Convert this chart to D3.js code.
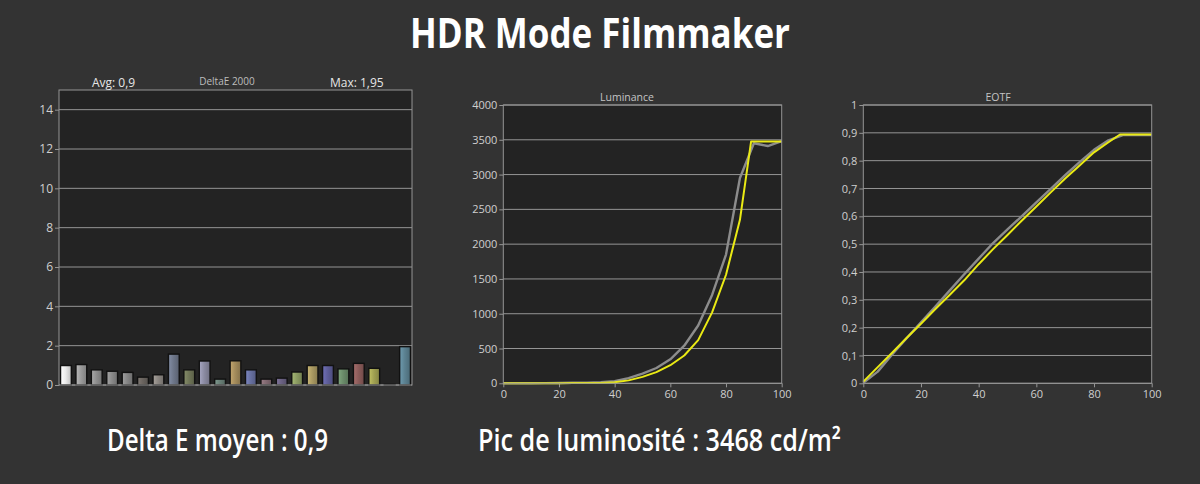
<!DOCTYPE html>
<html><head><meta charset="utf-8">
<script src="https://cdn.jsdelivr.net/npm/d3@7"></script>
<style>html,body{margin:0;padding:0;background:#333333;}svg{display:block;}</style>
</head><body>
<svg id="c" width="1200" height="484"></svg>
<script>
// ---------- DATA ----------
const deltaE = [0.99,1.04,0.77,0.70,0.64,0.40,0.52,1.57,0.77,1.22,0.30,1.23,0.77,0.30,0.35,0.66,0.99,0.99,0.82,1.10,0.85,0.03,1.95];
const barColors = ["#ececec","#9c9c9c","#8e8e8e","#8a8a8a","#868686","#6b6560","#8c8782","#6e778a","#707658","#8b8ba2","#6a8178","#a48c5c","#6871a2","#826a72","#6b6283","#8c9c62","#aa9a62","#5e5e9a","#6b8c6a","#8c5c5a","#a2a252","#8a8a8a","#5c8292"];
const deltaTicks = [0,2,4,6,8,10,12,14];

const lumGrayX = [0,5,10,15,20,25,30,35,40,45,50,55,60,65,70,75,80,85,90,95,100];
const lumGray  = [0,0,1,2,4,7,10,15,32,75,140,220,345,540,830,1270,1850,2950,3450,3410,3480];
const lumYellowX = [0,5,10,15,20,25,30,35,40,45,50,55,60,65,70,75,80,85,89,90,95,100];
const lumYellow  = [0,0,0.3,0.8,1.5,3,4,6,15,42,92,160,260,400,620,1020,1560,2350,3475,3475,3475,3475];
const lumTicks = [0,500,1000,1500,2000,2500,3000,3500,4000];

const eotfGrayX = [0,5,10,15,20,25,30,35,40,45,50,55,60,65,70,75,80,85,90,95,100];
const eotfGray  = [0.002,0.042,0.104,0.162,0.219,0.276,0.334,0.392,0.448,0.504,0.553,0.601,0.65,0.699,0.748,0.795,0.839,0.873,0.892,0.892,0.892];
const eotfYellowX = [0,5,10,15,20,25,30,35,40,45,50,55,60,65,70,75,80,85,89,90,95,100];
const eotfYellow  = [0.006,0.058,0.11,0.163,0.214,0.267,0.318,0.37,0.428,0.482,0.533,0.585,0.635,0.686,0.736,0.783,0.83,0.866,0.894,0.894,0.894,0.894];
const eotfTicks = [0,0.1,0.2,0.3,0.4,0.5,0.6,0.7,0.8,0.9,1];
const xTicks = [0,20,40,60,80,100];

// ---------- STYLE ----------
const BG="#333333", PLOT="#232323", GRID="#959595", TXT="#cfcfcf";
const FONT="'Open Sans','Noto Sans',sans-serif";
const svg = d3.select("#c");
svg.append("rect").attr("width",1200).attr("height",484).attr("fill",BG);
const defs = svg.append("defs");
const fmt = d => String(d).replace(".",",");

// Title
svg.append("text").attr("x",600).attr("y",48).attr("text-anchor","middle")
  .attr("font-family",FONT).attr("font-weight",700).attr("font-size",42)
  .attr("fill","#ffffff").attr("textLength",380).attr("lengthAdjust","spacingAndGlyphs")
  .text("HDR Mode Filmmaker");

// Bottom captions
svg.append("text").attr("x",107).attr("y",451).attr("font-family",FONT).attr("font-weight",600)
  .attr("font-size",30).attr("fill","#ffffff").attr("textLength",221).attr("lengthAdjust","spacingAndGlyphs")
  .text("Delta E moyen : 0,9");
svg.append("text").attr("x",478).attr("y",451).attr("font-family",FONT).attr("font-weight",600)
  .attr("font-size",30).attr("fill","#ffffff").attr("textLength",363).attr("lengthAdjust","spacingAndGlyphs")
  .text("Pic de luminosité : 3468 cd/m²");

function frame(x0,x1,y0,y1,yScale,yTicks,yFmt,fs){
  const g = svg.append("g");
  g.append("rect").attr("x",x0).attr("y",y0).attr("width",x1-x0).attr("height",y1-y0).attr("fill",PLOT);
  g.selectAll(".grid").data(yTicks).enter().append("line")
    .attr("x1",x0).attr("x2",x1).attr("y1",d=>yScale(d)).attr("y2",d=>yScale(d))
    .attr("stroke",GRID).attr("stroke-width",1);
  const ax = g.append("g").attr("transform",`translate(${x0},0)`)
    .call(d3.axisLeft(yScale).tickValues(yTicks).tickFormat(yFmt).tickSize(4).tickPadding(2));
  ax.select(".domain").remove();
  ax.selectAll("line").attr("stroke",GRID);
  ax.selectAll("text").attr("fill",TXT).attr("font-family",FONT).attr("font-size",fs);
  return g;
}
function border(x0,x1,y0,y1){
  svg.append("rect").attr("x",x0).attr("y",y0).attr("width",x1-x0).attr("height",y1-y0)
    .attr("fill","none").attr("stroke",GRID).attr("stroke-width",1);
}

// ---------- LEFT: DeltaE bars ----------
(function(){
  const x0=59,x1=412,y0=90,y1=385;
  const y = d3.scaleLinear().domain([0,15]).range([y1,y0]);
  const x = d3.scaleBand().domain(deltaE.map((d,i)=>i)).range([x0,x1]).paddingInner(0.3).paddingOuter(0.1);
  frame(x0,x1,y0,y1,y,deltaTicks,d=>d,12);
  barColors.forEach((c,i)=>{
    const gr = defs.append("linearGradient").attr("id","bg"+i).attr("x1","0").attr("x2","1").attr("y1","0").attr("y2","0");
    const col = d3.color(c);
    gr.append("stop").attr("offset","0%").attr("stop-color",col.brighter(0.5));
    gr.append("stop").attr("offset","45%").attr("stop-color",col);
    gr.append("stop").attr("offset","100%").attr("stop-color",col.darker(0.6));
  });
  svg.append("g").selectAll("rect").data(deltaE).enter().append("rect")
    .attr("x",(d,i)=>x(i)).attr("width",x.bandwidth())
    .attr("y",d=>y(d)).attr("height",d=>y1-y(d))
    .attr("fill",(d,i)=>`url(#bg${i})`).attr("stroke","#111").attr("stroke-width",1.4);
  border(x0,x1,y0,y1);
  svg.append("text").attr("x",92).attr("y",87).attr("font-family",FONT).attr("font-size",12).attr("fill","#e6e6e6").text("Avg: 0,9");
  svg.append("text").attr("x",227).attr("y",85).attr("text-anchor","middle").attr("font-family",FONT).attr("font-size",10).attr("fill","#bdbdbd").text("DeltaE 2000");
  svg.append("text").attr("x",330).attr("y",87).attr("font-family",FONT).attr("font-size",12).attr("fill","#e6e6e6").text("Max: 1,95");
})();

function lineChart(x0,x1,y0,y1,yDomain,yTicks,yFmt,title,titleX,gx,gy,yx,yy){
  const y = d3.scaleLinear().domain(yDomain).range([y1,y0]);
  const x = d3.scaleLinear().domain([0,100]).range([x0,x1]);
  frame(x0,x1,y0,y1,y,yTicks,yFmt,11);
  const xa = svg.append("g").attr("transform",`translate(0,${y1})`)
    .call(d3.axisBottom(x).tickValues(xTicks).tickSize(4).tickPadding(3));
  xa.select(".domain").remove();
  xa.selectAll("line").attr("stroke",GRID);
  xa.selectAll("text").attr("fill",TXT).attr("font-family",FONT).attr("font-size",11);
  const line = d3.line().x(d=>x(d[0])).y(d=>y(d[1]));
  svg.append("path").datum(gx.map((v,i)=>[v,gy[i]])).attr("d",line)
    .attr("fill","none").attr("stroke","#8c8c8c").attr("stroke-width",2.4).attr("stroke-linejoin","round");
  svg.append("path").datum(yx.map((v,i)=>[v,yy[i]])).attr("d",line)
    .attr("fill","none").attr("stroke","#eaea14").attr("stroke-width",2).attr("stroke-linejoin","round");
  border(x0,x1,y0,y1);
  svg.append("text").attr("x",titleX).attr("y",101).attr("text-anchor","middle")
    .attr("font-family",FONT).attr("font-size",10.5).attr("fill","#c4c4c4").text(title);
}

lineChart(503.3,781.7,105,383.3,[0,4000],lumTicks,d=>d,"Luminance",627,lumGrayX,lumGray,lumYellowX,lumYellow);
lineChart(863.3,1151.7,105,383.3,[0,1],eotfTicks,fmt,"EOTF",998,eotfGrayX,eotfGray,eotfYellowX,eotfYellow);
</script>
</body></html>
